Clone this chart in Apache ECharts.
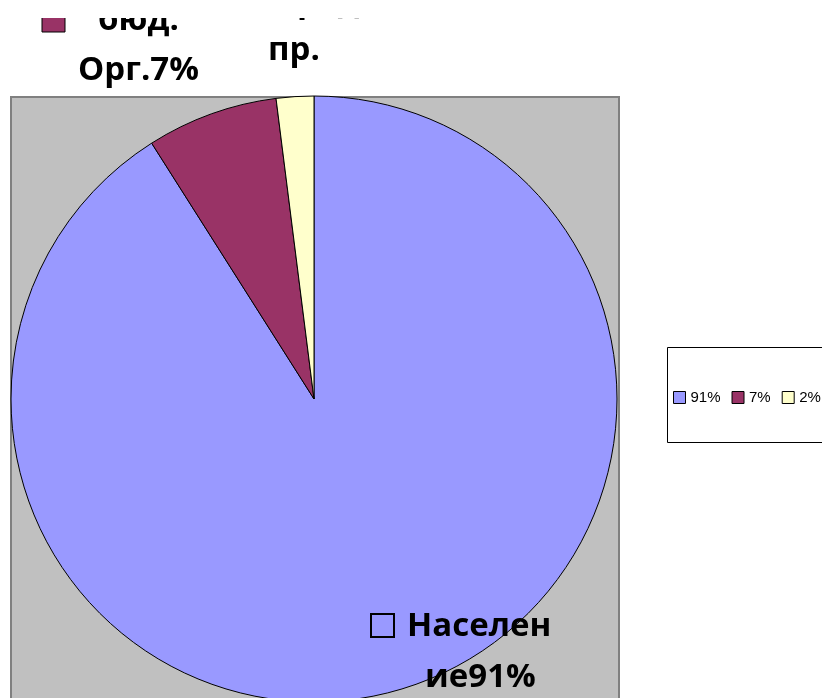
<!DOCTYPE html>
<html>
<head>
<meta charset="utf-8">
<script src="https://cdn.jsdelivr.net/npm/echarts@6/dist/echarts.min.js"></script>
<style>
  html, body { margin: 0; padding: 0; background: #fff; }
  #main { width: 822px; height: 698px; }
</style>
</head>
<body>
<div id="main"></div>
<script>
    // данные диаграммы
    var names = ['Население', 'бюд. Орг.', 'Ком. пред-пр.'];
    var values = [91, 7, 2];
    var colors = ['#9999FF', '#993366', '#FFFFCC'];
    // подписи, как они разбиты на строки в оригинале
    var labelLines = [['Населен', 'ие' + values[0] + '%'], ['бюд.', 'Орг.' + values[1] + '%'], ['Ком. пред-', 'пр.']];

    var myChart = echarts.init(document.getElementById('main'));

    var dataList = [];
    for (var i = 0; i < names.length; i++) {
        dataList.push({name: names[i], value: values[i], itemStyle: {color: colors[i]}});
    }

    var bigFont = 'bold 33px "Open Sans", "Liberation Sans", sans-serif';
    function txt(str, x, y, align) {
        return {
            type: 'text', z: 100, x: x, y: y,
            style: {text: str, font: bigFont, fill: '#000', align: align || 'left', verticalAlign: 'middle'}
        };
    }

    var option = {
        animation: false,
        legend: {
            left: 673,
            top: 390,
            padding: 0,
            itemWidth: 12,
            itemHeight: 12,
            itemGap: 11,
            icon: 'rect',
            itemStyle: {borderColor: '#000', borderWidth: 1},
            textStyle: {fontSize: 15, color: '#000', fontFamily: '"Liberation Sans", sans-serif'},
            formatter: function (name) {
                return values[names.indexOf(name)] + '%';
            },
            data: names
        },
        graphic: [
            // серая область построения
            {type: 'rect', z: -10, shape: {x: 11, y: 97, width: 608, height: 700},
             style: {fill: '#C0C0C0', stroke: '#808080', lineWidth: 2}},
            // рамка легенды
            {type: 'rect', z: -10, shape: {x: 667.5, y: 347.5, width: 170, height: 95},
             style: {fill: '#fff', stroke: '#000', lineWidth: 1}},
            // ключи у подписей
            {type: 'rect', z: 100, shape: {x: 42, y: 9, width: 23, height: 23},
             style: {fill: colors[1], stroke: '#000', lineWidth: 1}},
            {type: 'rect', z: 100, shape: {x: 371, y: 614, width: 23, height: 23},
             style: {fill: 'none', stroke: '#000', lineWidth: 2}},
            txt(labelLines[0][0], 407, 627),
            txt(labelLines[0][1], 425, 678),
            txt(labelLines[1][0], 98, 21),
            txt(labelLines[1][1], 78, 71),
            txt(labelLines[2][0], 370, 3, 'right'),
            txt(labelLines[2][1], 268, 51),
            // верх подписей обрезан
            {type: 'rect', z: 200, shape: {x: 0, y: 0, width: 822, height: 18},
             style: {fill: '#fff'}}
        ],
        series: [{
            name: 'Структура',
            type: 'pie',
            center: [314, 399],
            radius: 303,
            startAngle: 90,
            clockwise: true,
            label: {show: false},
            labelLine: {show: false},
            emphasis: {disabled: true},
            itemStyle: {borderColor: '#000', borderWidth: 1},
            data: dataList
        }]
    };

    myChart.setOption(option);
</script>
</body>
</html>
